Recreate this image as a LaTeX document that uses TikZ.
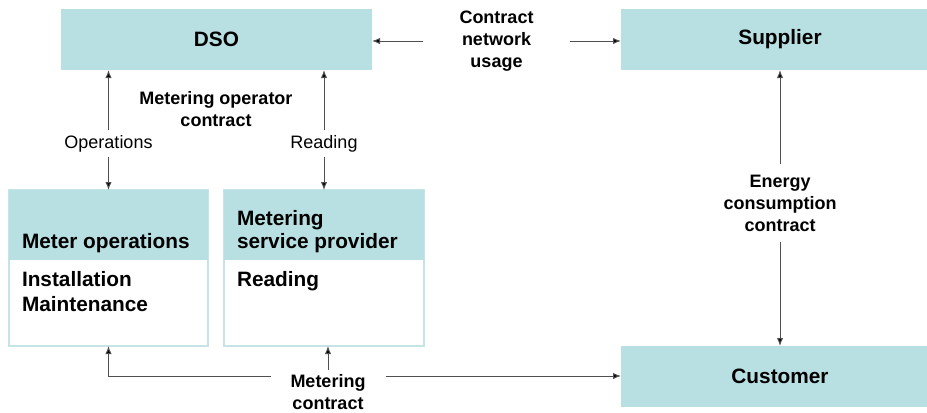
\documentclass[tikz,border=0pt]{standalone}
\usepackage{fontspec}
\setmainfont{Liberation Sans}
\usetikzlibrary{arrows.meta,calc}
\definecolor{boxfill}{HTML}{B8DFE1}
\definecolor{boxline}{HTML}{C6E4E6}
\definecolor{wire}{HTML}{505050}

\begin{document}
\begin{tikzpicture}[x=0.75pt,y=-0.75pt,
  every node/.style={inner sep=0pt,outer sep=0pt},
  headbox/.style={fill=boxfill,draw=none},
  panel/.style={fill=white,draw=boxline,line width=0.9pt},
  boxtext/.style={font=\fontsize{15.6}{18.75}\selectfont\bfseries,text=black},
  lblbold/.style={font=\fontsize{13.5}{16.5}\selectfont\bfseries,align=center,text=black},
  lblplain/.style={font=\fontsize{13.5}{16.5}\selectfont,align=center,text=black},
  arr/.style={draw=wire,line width=0.75pt,-{Latex[length=6pt,width=4.8pt,fill=black]}},
]
\useasboundingbox (0,0) rectangle (927,412);

% top row
\node[headbox,boxtext,minimum width=311*0.75pt,minimum height=61*0.75pt] (dso) at (216.5,39.5) {DSO};
\node[headbox,boxtext,minimum width=318*0.75pt,minimum height=61*0.75pt] (sup) at (780,39.5) {Supplier};

% meter operations panel
\node[panel,minimum width=199*0.75pt,minimum height=156*0.75pt] (mo) at (108.5,268) {};
\node[headbox,minimum width=199*0.75pt,minimum height=70*0.75pt] (moh) at (108.5,225) {};
\node[boxtext,anchor=base west] (mot) at (22,248) {Meter operations};
\node[boxtext,anchor=base west] (mob1) at (22,286) {Installation};
\node[boxtext,anchor=base west] (mob2) at (22,311) {Maintenance};

% metering service provider panel
\node[panel,minimum width=200*0.75pt,minimum height=156*0.75pt] (msp) at (324,268) {};
\node[headbox,minimum width=200*0.75pt,minimum height=70*0.75pt] (msph) at (324,225) {};
\node[boxtext,anchor=base west] (mspt1) at (237,225.5) {Metering};
\node[boxtext,anchor=base west] (mspt2) at (237,248) {service provider};
\node[boxtext,anchor=base west] (mspb) at (237,286) {Reading};

% customer
\node[headbox,boxtext,minimum width=318*0.75pt,minimum height=61*0.75pt] (cust) at (780,376.5) {Customer};

% labels
\node[lblbold] (cnu) at (496.5,41) [minimum width=147*0.75pt] {Contract\\network\\usage};
\node[lblbold] (moc) at (216,109) {Metering operator\\contract};
\node[lblplain,minimum height=27*0.75pt] (ops) at (108.5,143.5) {Operations};
\node[lblplain,minimum height=27*0.75pt] (rdg) at (324,143.5) {Reading};
\node[lblbold,minimum height=78*0.75pt] (ecc) at (780,203) {Energy\\consumption\\contract};
\node[lblbold,minimum width=115*0.75pt,minimum height=44*0.75pt] (mc) at (328,392) {Metering\\contract};

% connectors
\draw[arr] (cnu.west) -- (cnu.west -| dso.east);
\draw[arr] (cnu.east) -- (cnu.east -| sup.west);

\draw[arr] (ops.north) -- (ops.north |- dso.south);
\draw[arr] (ops.south) -- (mo.north);
\draw[arr] (rdg.north) -- (rdg.north |- dso.south);
\draw[arr] (rdg.south) -- (msp.north);

\draw[arr] (ecc.north) -- (sup.south);
\draw[arr] (ecc.south) -- (cust.north);

\draw[arr] (mc.north) -- (mc.north |- msp.south);
\draw[arr] ($(mc.north west)+(0,6)$) -| (mo.south);
\draw[arr] ($(mc.north east)+(0,6)$) coordinate (mcr) -- (mcr -| cust.west);
\end{tikzpicture}
\end{document}
